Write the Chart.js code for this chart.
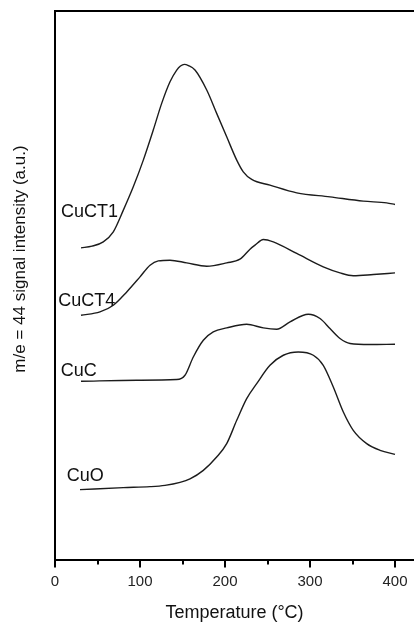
<!DOCTYPE html>
<html>
<head>
<meta charset="utf-8">
<script src="https://cdn.jsdelivr.net/npm/chart.js@4/dist/chart.umd.min.js"></script>
<style>
  html, body { margin: 0; padding: 0; background: #fff; }
  #wrap { width: 414px; height: 624px; }
</style>
</head>
<body>
<div id="wrap"><canvas id="chart-tpd" width="414" height="624"></canvas></div>
<script>
// m/e = 44 signal vs temperature (a.u., curves are offset)
var cuct1Temp   = [30.6, 43.5, 56.8, 68.6, 80.4, 92.1, 103.9, 115.6, 125.5, 135.3, 143.2, 147.6, 152.1, 157, 164.7, 178.5, 190.2, 202, 213.8, 221.5, 231.4, 252.9, 284.4, 323.5, 362.7, 390.2, 400];
var cuct1Signal = [312.3, 314, 318.3, 328.3, 350, 373.3, 400, 430, 456.7, 478.3, 490, 494, 495.7, 494.5, 490, 470, 446.7, 423.3, 400, 388.3, 380.7, 375, 367.3, 363.3, 359, 357.3, 355.7];

var cuct4Temp   = [30.6, 52.9, 68.6, 84.4, 100, 111.8, 121.5, 135.3, 154.9, 178.5, 202, 217.6, 229.4, 235.3, 245.1, 256.8, 284.4, 315.6, 335.3, 350.9, 374.5, 400];
var cuct4Signal = [245, 248.3, 255, 268.3, 283.3, 295, 299.3, 300, 297.3, 294, 297.3, 301, 311, 315, 320.7, 318.3, 306.7, 293.3, 287.3, 284.5, 285.7, 287.3];

var cucTemp   = [30.6, 96.1, 143.2, 152.9, 162.7, 174.5, 186.2, 202, 225.5, 245.1, 260.8, 276.5, 298, 311.8, 323.5, 335.3, 347.1, 370.6, 400];
var cucSignal = [179, 180, 180.7, 185, 203.3, 220, 228.3, 232.3, 236, 232.3, 231, 238.3, 246, 241.7, 231.7, 221.7, 216.7, 215.7, 216];

var cuoTemp   = [29.4, 80.4, 111.8, 129.4, 147.1, 158.8, 174.5, 190.2, 202, 213.8, 225.5, 237.3, 252.9, 268.6, 286.2, 303.9, 315.6, 327.4, 339.2, 350.9, 366.7, 382.4, 400];
var cuoSignal = [70.7, 72.7, 73.7, 75, 78, 81.5, 90, 103.3, 116.7, 140, 161.7, 176.7, 195, 205, 208.3, 205, 195, 173.3, 148.3, 130, 116.7, 110, 106];

var sampleNames = ['CuCT1', 'CuCT4', 'CuC', 'CuO'];
// where each sample name sits (temperature, signal) next to its curve
var nameTemp   = [7.1, 3.9, 6.7, 13.8];
var nameSignal = [343.3, 254, 184.3, 79];

var xMajorTicks = [0, 100, 200, 300, 400];
var xMinorTicks = [50, 150, 250, 350];

function toPoints(xs, ys) {
    return xs.map(function (x, i) { return { x: x, y: ys[i] }; });
}

var seriesTemps = [cuct1Temp, cuct4Temp, cucTemp, cuoTemp];
var seriesSignals = [cuct1Signal, cuct4Signal, cucSignal, cuoSignal];

var datasets = sampleNames.map(function (name, i) {
    return {
        label: name,
        data: toPoints(seriesTemps[i], seriesSignals[i]),
        borderColor: '#1c1c1c',
        borderWidth: 1.4,
        pointRadius: 0,
        fill: false,
        cubicInterpolationMode: 'monotone'
    };
});

var FONT = '"Liberation Sans", Arial, Helvetica, sans-serif';

// tick marks below the x axis, long ones at 100s, short ones in between
var tickMarks = {
    id: 'tickMarks',
    afterDraw: function (chart) {
        var ctx = chart.ctx;
        var xs = chart.scales.x;
        var y0 = chart.chartArea.bottom;
        ctx.save();
        ctx.strokeStyle = '#000';
        ctx.lineWidth = 2;
        xMajorTicks.forEach(function (v) {
            var px = Math.round(xs.getPixelForValue(v));
            ctx.beginPath(); ctx.moveTo(px, y0); ctx.lineTo(px, y0 + 7); ctx.stroke();
        });
        xMinorTicks.forEach(function (v) {
            var px = Math.round(xs.getPixelForValue(v));
            ctx.beginPath(); ctx.moveTo(px, y0); ctx.lineTo(px, y0 + 4); ctx.stroke();
        });
        ctx.restore();
    }
};

// sample names and the rotated y title
var annotations = {
    id: 'annotations',
    afterDraw: function (chart) {
        var ctx = chart.ctx;
        var xs = chart.scales.x, ys = chart.scales.y;
        ctx.save();
        ctx.fillStyle = '#111';
        ctx.font = '18px ' + FONT;
        ctx.textAlign = 'left';
        ctx.textBaseline = 'alphabetic';
        sampleNames.forEach(function (name, i) {
            ctx.fillText(name, xs.getPixelForValue(nameTemp[i]), ys.getPixelForValue(nameSignal[i]));
        });
        ctx.translate(chart.chartArea.left - 35, 259);
        ctx.rotate(-Math.PI / 2);
        ctx.font = '17px ' + FONT;
        ctx.textAlign = 'center';
        ctx.textBaseline = 'middle';
        ctx.fillText('m/e = 44 signal intensity (a.u.)', 0, 0);
        ctx.restore();
    }
};

var ctx = document.getElementById('chart-tpd').getContext('2d');
var tpdChart = new Chart(ctx, {
    type: 'line',
    data: { datasets: datasets },
    options: {
        responsive: false,
        animation: false,
        devicePixelRatio: 1,
        layout: { padding: { left: 55, right: 0, top: 11, bottom: 0 } },
        plugins: {
            legend: { display: false },
            tooltip: { enabled: false }
        },
        scales: {
            x: {
                type: 'linear',
                position: 'bottom',
                min: 0,
                max: 422.35,
                border: { color: '#000', width: 2 },
                // grid hidden, but its tick length keeps the gap to the labels
                grid: { display: false, drawTicks: true, tickLength: 12 },
                ticks: {
                    stepSize: 100,
                    includeBounds: false,
                    padding: 0,
                    color: '#222',
                    font: { family: FONT, size: 15 },
                    maxRotation: 0
                },
                title: {
                    display: true,
                    text: 'Temperature (\u00B0C)',
                    color: '#111',
                    font: { family: FONT, size: 18 },
                    padding: { top: 12, bottom: 0 }
                }
            },
            x2: {
                type: 'linear',
                position: 'top',
                min: 0,
                max: 422.35,
                border: { color: '#000', width: 2 },
                grid: { display: false, drawTicks: false },
                ticks: { display: false }
            },
            y: {
                type: 'linear',
                position: 'left',
                min: 0,
                max: 549,
                border: { color: '#000', width: 2 },
                grid: { display: false, drawTicks: false },
                ticks: { display: false }
            }
        }
    },
    plugins: [tickMarks, annotations]
});
</script>
</body>
</html>
